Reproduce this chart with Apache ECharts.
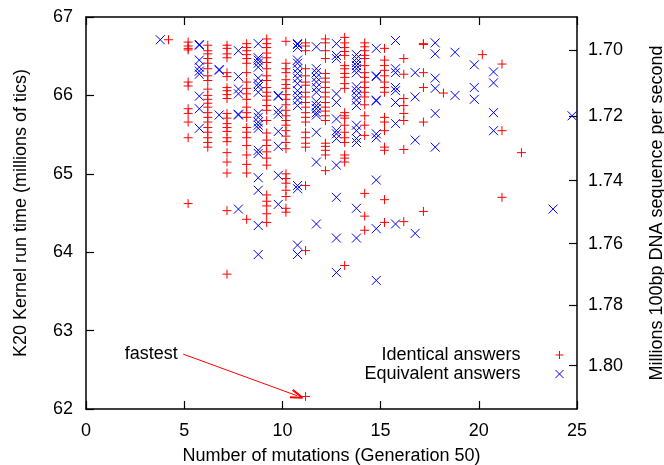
<!DOCTYPE html>
<html><head><meta charset="utf-8">
<script src="https://cdn.jsdelivr.net/npm/echarts@6/dist/echarts.min.js"></script>
<style>html,body{margin:0;padding:0;background:#fff}#c{width:664px;height:465px}</style>
</head><body><div id="c"></div>
<script>
// ---------- data ----------
const xRange = [0, 25];
const yRange = [62, 67];
const rateTicks = [1.70, 1.72, 1.74, 1.76, 1.78, 1.80];
// right axis: kernel time = RATE_K / rate - RATE_OFFSET
const RATE_K = 123.1, RATE_OFFSET = 5.835;

// [mutations, [run times]]
const identicalCols = [
  [4.2, [66.71]],
  [5.2, [66.68, 66.63, 66.60, 66.58, 66.17, 66.12, 65.83, 65.77, 65.66, 65.46, 64.62]],
  [6.2, [66.64, 66.57, 66.53, 66.47, 66.41, 66.34, 66.25, 66.19, 66.08, 66.00, 65.95, 65.90, 65.85, 65.78, 65.72, 65.66, 65.59, 65.53, 65.46, 65.40, 65.34]],
  [7.18, [66.64, 66.60, 66.53, 66.48, 66.29, 66.24, 66.10, 66.06, 66.01, 65.96, 65.77, 65.71, 65.64, 65.59, 65.54, 65.46, 65.41, 65.27, 65.15, 65.01, 64.53, 63.72]],
  [8.18, [66.66, 66.61, 66.57, 66.52, 66.47, 66.41, 66.29, 66.17, 66.09, 66.02, 65.95, 65.85, 65.78, 65.72, 65.59, 65.53, 65.46, 65.36, 65.24, 65.12, 65.01, 64.42]],
  [9.2, [66.72, 66.66, 66.61, 66.54, 66.48, 66.42, 66.34, 66.25, 66.19, 66.10, 66.04, 65.99, 65.94, 65.87, 65.81, 65.68, 65.52, 65.43, 65.36, 65.28, 65.20, 65.11, 64.73, 64.65, 64.59, 64.49, 64.38]],
  [10.18, [66.69, 66.41, 66.34, 66.29, 66.20, 66.14, 66.09, 66.01, 65.95, 65.88, 65.81, 65.74, 65.68, 65.62, 65.55, 65.48, 65.40, 65.32, 65.00, 64.94, 64.88, 64.79, 64.71, 64.56, 64.51]],
  [11.18, [66.67, 66.63, 66.57, 66.34, 66.25, 66.17, 66.13, 66.04, 65.98, 65.91, 65.85, 65.78, 65.72, 65.66, 65.53, 65.46, 65.39, 65.34, 64.85, 64.02, 62.16]],
  [12.19, [66.72, 66.67, 66.57, 66.47, 66.28, 66.22, 66.17, 66.10, 66.04, 65.98, 65.91, 65.85, 65.80, 65.74, 65.68, 65.39, 65.35, 65.30, 65.24, 65.04]],
  [13.17, [66.74, 66.67, 66.61, 66.56, 66.51, 66.38, 66.34, 66.28, 66.23, 66.15, 66.09, 65.78, 65.74, 65.71, 65.62, 65.53, 65.46, 65.40, 65.24, 65.20, 65.15, 63.83]],
  [14.19, [66.67, 66.62, 66.57, 66.51, 66.47, 66.38, 66.29, 66.23, 66.17, 66.10, 66.04, 65.98, 65.88, 65.74, 65.62, 65.49, 64.75, 64.46, 64.28]],
  [15.2, [66.60, 66.45, 66.38, 66.32, 66.25, 66.17, 66.10, 66.04, 65.72, 65.66, 65.55, 65.34, 65.30, 64.67, 64.38]],
  [16.18, [66.47, 66.27, 65.96, 65.87, 65.77, 65.68, 65.31, 64.39]],
  [17.18, [66.66, 66.65, 66.29, 66.10, 65.66, 64.52]],
  [18.2, [66.03]],
  [20.18, [66.52]],
  [21.18, [66.40, 65.55, 64.70]],
  [22.17, [65.27]]
];

const equivalentCols = [
  [3.78, [66.71]],
  [5.77, [66.65, 66.64, 66.45, 66.36, 66.31, 66.27, 65.99, 65.83, 65.58]],
  [6.78, [66.33, 66.32, 65.75]],
  [7.76, [66.57, 66.24, 66.08, 66.02, 65.76, 65.75, 64.55]],
  [8.77, [66.66, 66.48, 66.45, 66.41, 66.36, 66.22, 66.15, 66.11, 66.04, 65.77, 65.72, 65.66, 65.62, 65.58, 65.30, 65.26, 64.95, 64.79, 64.34, 63.97]],
  [9.79, [66.00, 65.99, 65.81, 65.76, 65.54, 65.35, 64.98, 64.61]],
  [10.77, [66.66, 66.65, 66.61, 66.45, 66.41, 66.34, 66.28, 66.22, 66.15, 66.06, 66.00, 65.94, 65.87, 64.85, 64.81, 64.09, 63.97]],
  [11.73, [66.62, 66.34, 66.29, 66.23, 66.17, 66.10, 66.04, 65.92, 65.87, 65.83, 65.78, 65.75, 65.53, 65.15, 64.36]],
  [12.75, [66.66, 66.51, 66.47, 66.02, 65.91, 65.70, 65.55, 65.51, 65.45, 65.11, 64.70, 64.18, 63.74]],
  [13.77, [66.52, 66.47, 66.42, 66.38, 66.34, 66.29, 66.11, 66.06, 66.00, 65.94, 65.87, 65.62, 65.55, 65.45, 65.40, 64.56, 64.18]],
  [14.78, [66.60, 66.25, 66.24, 65.94, 65.93, 65.51, 65.46, 64.92, 64.30, 63.64]],
  [15.76, [66.70, 66.34, 66.29, 66.10, 66.06, 65.91, 65.64, 64.36]],
  [16.76, [66.29, 65.98, 65.43, 64.24]],
  [17.78, [66.67, 66.53, 66.22, 66.09, 65.77, 65.34]],
  [18.79, [66.55, 66.00]],
  [19.77, [66.39, 66.10, 65.95]],
  [20.75, [66.30, 66.16, 65.78, 65.55]],
  [23.78, [64.55]],
  [24.75, [65.74]]
];

const fastestFrom = [4.95, 62.70];
const fastestTo = [10.74, 62.17];

// ---------- chart ----------
const FONT = 'Liberation Sans, Arial, Helvetica, sans-serif';
const toPoints = cols => cols.flatMap(([x, ys]) => ys.map(y => [x, y]));
const identical = toPoints(identicalCols);
const equivalent = toPoints(equivalentCols);
const rateTickValues = rateTicks.map(r => RATE_K / r - RATE_OFFSET);

const plusPath = 'path://M0,5L10,5M5,0L5,10';
const crossPath = 'path://M0,0L10,10M10,0L0,10';
const arrowHead = 'emptypath://M0,10L5,0M5,0L10,10';

const axisLine = { show: true, onZero: false, lineStyle: { color: '#000', width: 1.5 } };
const tick = { show: true, inside: true, length: 8, lineStyle: { color: '#000', width: 1.2 } };
const labelStyle = { color: '#000', fontSize: 18, fontFamily: FONT };
const nameStyle = { color: '#000', fontSize: 18, fontFamily: FONT };

const chart = echarts.init(document.getElementById('c'), null, { renderer: 'canvas' });
chart.setOption({
  animation: false,
  backgroundColor: '#fff',
  textStyle: { fontFamily: FONT },
  grid: { left: 86, right: 87, top: 17, bottom: 56, containLabel: false, outerBoundsMode: 'none' },
  legend: {
    orient: 'vertical', right: 100, top: 346, padding: 0,
    align: 'right', itemWidth: 68, itemHeight: 8, itemGap: 1,
    selectedMode: false,
    textStyle: { color: '#000', fontSize: 18, fontFamily: FONT },
    data: [
      { name: 'Identical answers', icon: plusPath, itemStyle: { color: '#ff0000', borderColor: '#ff0000', borderWidth: 1 } },
      { name: 'Equivalent answers', icon: crossPath, itemStyle: { color: '#0000ff', borderColor: '#0000ff', borderWidth: 1 } }
    ]
  },
  xAxis: [
    {
      type: 'value', position: 'bottom', min: xRange[0], max: xRange[1], interval: 5,
      name: 'Number of mutations (Generation 50)', nameLocation: 'middle', nameGap: 38,
      nameMoveOverlap: false, nameTextStyle: nameStyle,
      axisLine, axisTick: tick, axisLabel: { ...labelStyle, margin: 13 },
      splitLine: { show: false }
    },
    {
      type: 'value', position: 'top', min: xRange[0], max: xRange[1], interval: 5,
      axisLine, axisTick: tick, axisLabel: { show: false }, splitLine: { show: false }
    }
  ],
  yAxis: [
    {
      type: 'value', position: 'left', min: yRange[0], max: yRange[1], interval: 1,
      name: 'K20 Kernel run time (millions of tics)', nameLocation: 'middle', nameGap: 56, nameRotate: 90,
      nameMoveOverlap: false, nameTextStyle: nameStyle,
      axisLine, axisTick: tick, axisLabel: { ...labelStyle, margin: 13 },
      splitLine: { show: false }
    },
    {
      type: 'value', position: 'right', min: yRange[0], max: yRange[1],
      name: 'Millions 100bp DNA sequence per second', nameLocation: 'middle', nameGap: 71, nameRotate: 90,
      nameMoveOverlap: false, nameTextStyle: nameStyle,
      axisLine,
      axisTick: { ...tick, customValues: rateTickValues },
      axisLabel: { ...labelStyle, margin: 11, customValues: rateTickValues,
        formatter: v => (RATE_K / (v + RATE_OFFSET)).toFixed(2) },
      splitLine: { show: false }
    }
  ],
  series: [
    {
      name: 'Identical answers', type: 'scatter', xAxisIndex: 0, yAxisIndex: 0,
      symbol: plusPath, symbolSize: 9,
      itemStyle: { color: '#ff0000', borderColor: '#ff0000', borderWidth: 1, opacity: 1 },
      emphasis: { disabled: true },
      data: identical,
      markLine: {
        silent: true, symbol: ['none', arrowHead], symbolSize: [8, 12],
        lineStyle: { color: '#ff0000', width: 1, type: 'solid' },
        label: { show: false },
        emphasis: { disabled: true },
        data: [[{ coord: fastestFrom }, { coord: fastestTo }]]
      },
      markPoint: {
        silent: true, symbol: 'circle', symbolSize: 1,
        itemStyle: { color: 'rgba(0,0,0,0)' },
        label: { show: true, position: 'left', distance: 5, formatter: 'fastest',
          color: '#000', fontSize: 18, fontFamily: FONT },
        data: [{ coord: fastestFrom }]
      }
    },
    {
      name: 'Equivalent answers', type: 'scatter', xAxisIndex: 0, yAxisIndex: 0,
      symbol: crossPath, symbolSize: 9,
      itemStyle: { color: '#0000ff', borderColor: '#0000ff', borderWidth: 1, opacity: 1 },
      emphasis: { disabled: true },
      data: equivalent
    }
  ]
});
</script>
</body></html>
